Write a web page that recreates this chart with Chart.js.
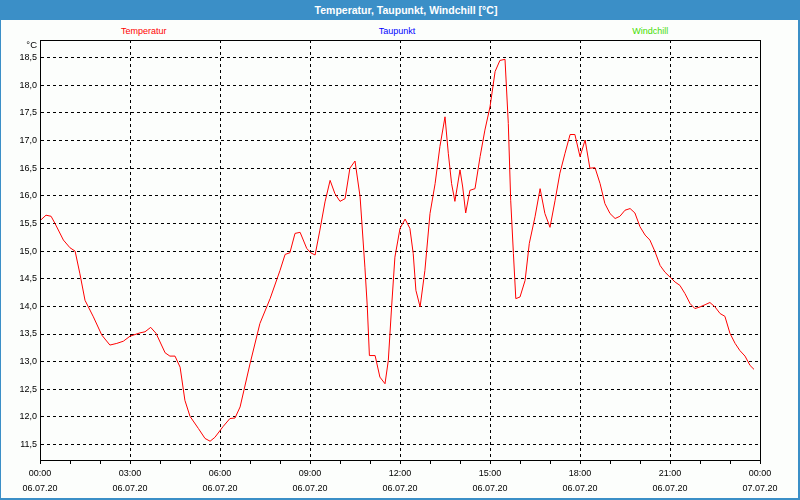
<!DOCTYPE html>
<html>
<head>
<meta charset="utf-8">
<script src="https://cdn.jsdelivr.net/npm/chart.js@4/dist/chart.umd.min.js"></script>
<style>
html, body { margin: 0; padding: 0; background: #fcfefc; }
#frame { position: absolute; left: 0; top: 0; width: 797px; height: 498px;
  border-left: 1px solid #3b8fc7; border-right: 2px solid #3b8fc7; border-bottom: 2px solid #3b8fc7; }
#title { position: absolute; left: 0; top: 0; width: 800px; height: 20px; background: #3b8fc7;
  color: #fff; font: bold 10.5px "Liberation Sans", Arial, sans-serif; line-height: 20px;
  text-align: center; text-indent: 12px; }
#legend { position: absolute; left: 17px; top: 24px; width: 760px; height: 14px; display: flex;
  font: 9px "Liberation Sans", Arial, sans-serif; line-height: 14px; }
#legend span { flex: 1; text-align: center; }
#graph { position: absolute; left: 0; top: 0; }
</style>
</head>
<body>
<div id="frame"></div>
<div id="title">Temperatur, Taupunkt, Windchill [°C]</div>
<div id="legend"></div>
<canvas id="graph" width="800" height="500"></canvas>
<script>
// time of day in hours, 06.07.20 00:00 = 0
var hours = [0, 0.2, 0.37, 0.5, 0.78, 1.0, 1.17, 1.33, 1.5, 1.78, 2.06, 2.33, 2.56, 2.78,
    3.0, 3.33, 3.5, 3.69, 3.87, 4.17, 4.33, 4.5, 4.67, 4.83, 5.0, 5.28, 5.5, 5.67, 5.83,
    6.11, 6.33, 6.5, 6.67, 7.0, 7.33, 7.67, 8.0, 8.17, 8.33, 8.5, 8.67, 8.89, 9.02, 9.17,
    9.33, 9.5, 9.67, 9.83, 10.0, 10.17, 10.33, 10.5, 10.67, 10.83, 10.91, 10.98, 11.17,
    11.33, 11.5, 11.61, 11.72, 11.83, 12.0, 12.17, 12.33, 12.44, 12.53, 12.67, 12.83,
    13.0, 13.17, 13.33, 13.5, 13.61, 13.72, 13.83, 14.0, 14.09, 14.19, 14.33, 14.5, 14.67,
    14.83, 15.0, 15.17, 15.33, 15.5, 15.61, 15.69, 15.78, 15.86, 16.0, 16.17, 16.31, 16.5,
    16.67, 16.83, 17.0, 17.17, 17.33, 17.5, 17.67, 17.83, 18.0, 18.17, 18.33, 18.5, 18.67,
    18.83, 19.0, 19.17, 19.33, 19.5, 19.67, 19.83, 20.0, 20.17, 20.33, 20.5, 20.67, 20.83,
    21.0, 21.17, 21.33, 21.5, 21.67, 21.83, 22.0, 22.17, 22.33, 22.5, 22.67, 22.83, 23.0,
    23.17, 23.33, 23.5, 23.67, 23.8];
var temperatur = [15.55, 15.65, 15.63, 15.50, 15.20, 15.06, 15.00, 14.59, 14.11, 13.81, 13.48, 13.30, 13.33, 13.37,
    13.46, 13.52, 13.54, 13.62, 13.51, 13.16, 13.10, 13.10, 12.90, 12.30, 12.01, 11.79, 11.61, 11.56, 11.63,
    11.83, 11.97, 11.98, 12.18, 12.96, 13.69, 14.14, 14.65, 14.94, 14.97, 15.32, 15.34, 15.05, 14.97, 14.93,
    15.38, 15.89, 16.28, 16.04, 15.90, 15.95, 16.50, 16.63, 15.98, 14.71, 13.99, 13.11, 13.11,
    12.72, 12.60, 13.02, 13.99, 14.89, 15.41, 15.58, 15.41, 14.96, 14.29, 13.99, 14.65,
    15.68, 16.22, 16.89, 17.43, 16.77, 16.22, 15.90, 16.47, 16.16, 15.69, 16.10, 16.13, 16.71,
    17.19, 17.61, 18.25, 18.45, 18.47, 17.31, 15.92, 14.96, 14.14, 14.17, 14.47, 15.14, 15.62,
    16.13, 15.68, 15.43, 15.92, 16.41, 16.77, 17.11, 17.11, 16.71, 17.01, 16.50, 16.51, 16.22,
    15.86, 15.68, 15.59, 15.63, 15.74, 15.77, 15.69, 15.44, 15.29, 15.20, 14.99, 14.74, 14.62,
    14.53, 14.44, 14.38, 14.23, 14.05, 13.96, 13.99, 14.03, 14.07, 13.99, 13.87, 13.82, 13.51,
    13.33, 13.20, 13.10, 12.93, 12.86];
var taupunkt = [];
var windchill = [];

var seriesNames = ['Temperatur', 'Taupunkt', 'Windchill'];
var seriesColors = ['#ff0000', '#0000ff', '#44dd00'];

var xTicks = [0, 1, 2, 3, 4, 5, 6, 7, 8, 9, 10, 11, 12, 13, 14, 15, 16, 17, 18, 19, 20, 21, 22, 23, 24];
var timeLabels = ['00:00', '03:00', '06:00', '09:00', '12:00', '15:00', '18:00', '21:00', '00:00'];
var dateLabels = ['06.07.20', '06.07.20', '06.07.20', '06.07.20', '06.07.20', '06.07.20', '06.07.20', '06.07.20', '07.07.20'];
var yTicks = [11.5, 12.0, 12.5, 13.0, 13.5, 14.0, 14.5, 15.0, 15.5, 16.0, 16.5, 17.0, 17.5, 18.0, 18.5];

function points(xs, ys) {
    return ys.map(function (y, i) { return {x: xs[i], y: y}; });
}

var tickFont = {family: '"Liberation Sans", Arial, sans-serif', size: 9};

var framePlugin = {
    id: 'frame',
    afterDraw: function (chart) {
        var ctx = chart.ctx, a = chart.chartArea;
        ctx.save();
        ctx.strokeStyle = '#000';
        ctx.lineWidth = 1;
        ctx.strokeRect(a.left + 0.5, a.top + 0.5, a.right - a.left, a.bottom - a.top);
        ctx.fillStyle = '#000';
        ctx.font = '9.5px "Liberation Sans", Arial, sans-serif';
        ctx.textAlign = 'right';
        ctx.textBaseline = 'middle';
        ctx.fillText('°C', a.left - 3, a.top + 5);
        ctx.restore();
    }
};

var ctx = document.getElementById('graph');
var graph = new Chart(ctx, {
    type: 'line',
    data: {
        datasets: [
            {label: seriesNames[0], data: points(hours, temperatur), borderColor: seriesColors[0]},
            {label: seriesNames[1], data: taupunkt, borderColor: seriesColors[1]},
            {label: seriesNames[2], data: windchill, borderColor: seriesColors[2]}
        ]
    },
    options: {
        responsive: false,
        animation: false,
        devicePixelRatio: 1,
        layout: {padding: {top: 40, right: 40, left: 0, bottom: 0}},
        elements: {
            line: {borderWidth: 1, tension: 0},
            point: {radius: 0}
        },
        plugins: {
            legend: {display: false},
            tooltip: {enabled: false}
        },
        scales: {
            x: {
                type: 'linear',
                min: 0,
                max: 24,
                afterBuildTicks: function (s) { s.ticks = xTicks.map(function (v) { return {value: v}; }); },
                afterFit: function (s) { s.height = 40; },
                ticks: {
                    autoSkip: false,
                    maxRotation: 0,
                    padding: 2,
                    color: '#000',
                    font: {family: tickFont.family, size: 9, lineHeight: '15px'},
                    callback: function (v) {
                        return v % 3 === 0 ? [timeLabels[v / 3], dateLabels[v / 3]] : '';
                    }
                },
                grid: {
                    color: function (c) { return c.tick && c.tick.value % 3 === 0 ? '#000' : 'rgba(0,0,0,0)'; },
                    tickColor: '#000',
                    tickLength: 4,
                    lineWidth: 1
                },
                border: {display: true, color: '#000', dash: [3, 3]}
            },
            y: {
                min: 11.22,
                max: 18.82,
                afterBuildTicks: function (s) { s.ticks = yTicks.map(function (v) { return {value: v}; }); },
                afterFit: function (s) { s.width = 40; },
                ticks: {
                    padding: 3,
                    color: '#000',
                    font: tickFont,
                    callback: function (v) { return v.toFixed(1).replace('.', ','); }
                },
                grid: {color: '#000', drawTicks: false, lineWidth: 1},
                border: {display: true, color: '#000', dash: [3, 3]}
            }
        }
    },
    plugins: [framePlugin]
});

var legend = document.getElementById('legend');
graph.data.datasets.forEach(function (ds) {
    var s = document.createElement('span');
    s.textContent = ds.label;
    s.style.color = ds.borderColor;
    legend.appendChild(s);
});
</script>
</body>
</html>
